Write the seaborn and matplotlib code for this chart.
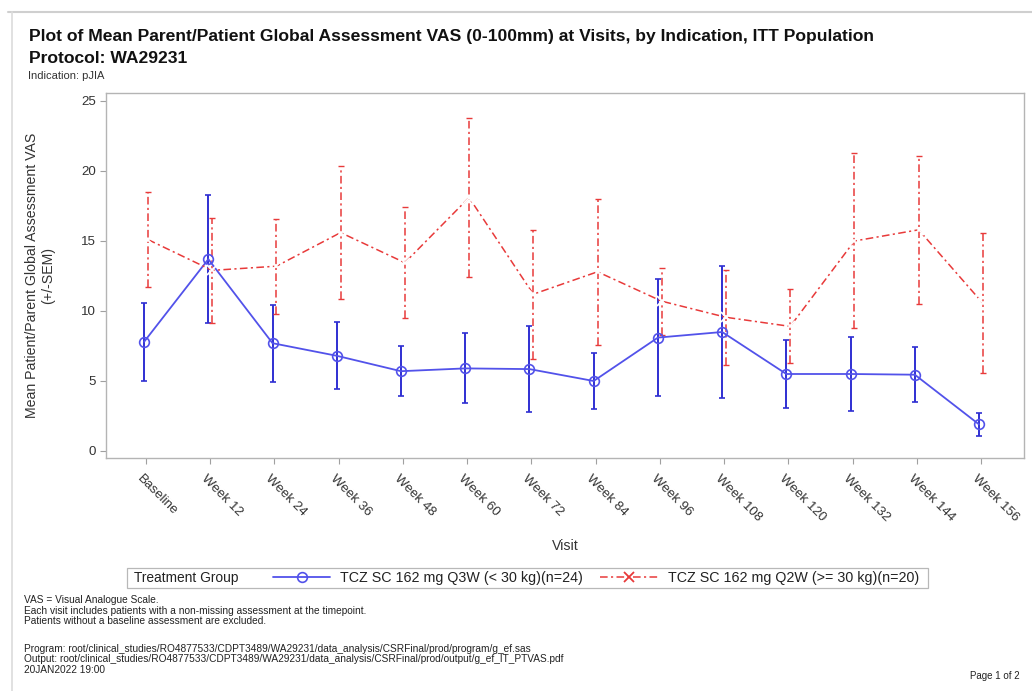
import numpy as np
import pandas as pd
import matplotlib
matplotlib.use("Agg")
import matplotlib.pyplot as plt
import matplotlib.transforms as mtransforms
from matplotlib.lines import Line2D
from matplotlib.patches import Rectangle
import seaborn as sns

# Visits and per-group summary statistics (mean and standard error of the mean)
visits = ["Baseline", "Week 12", "Week 24", "Week 36", "Week 48", "Week 60", "Week 72",
          "Week 84", "Week 96", "Week 108", "Week 120", "Week 132", "Week 144", "Week 156"]

q3w_label = "TCZ SC 162 mg Q3W (< 30 kg)(n=24)"
q3w_mean = [7.8, 13.7, 7.7, 6.8, 5.7, 5.9, 5.85, 5.0, 8.1, 8.5, 5.5, 5.5, 5.45, 1.9]
q3w_sem = [2.8, 4.55, 2.75, 2.4, 1.8, 2.5, 3.1, 2.0, 4.2, 4.7, 2.4, 2.65, 1.95, 0.8]

q2w_label = "TCZ SC 162 mg Q2W (>= 30 kg)(n=20)"
q2w_mean = [15.1, 12.9, 13.2, 15.6, 13.45, 18.1, 11.2, 12.8, 10.7, 9.55, 8.9, 15.0, 15.8, 10.55]
q2w_sem = [3.4, 3.75, 3.4, 4.75, 3.95, 5.65, 4.6, 5.2, 2.4, 3.4, 2.65, 6.25, 5.3, 5.0]

y_ticks = [0, 5, 10, 15, 20, 25]

footnotes = [
    "VAS = Visual Analogue Scale.",
    "Each visit includes patients with a non-missing assessment at the timepoint.",
    "Patients without a baseline assessment are excluded.",
    "",
    "Program: root/clinical_studies/RO4877533/CDPT3489/WA29231/data_analysis/CSRFinal/prod/program/g_ef.sas",
    "Output: root/clinical_studies/RO4877533/CDPT3489/WA29231/data_analysis/CSRFinal/prod/output/g_ef_IT_PTVAS.pdf",
    "20JAN2022 19:00",
]

sns.set_theme(style="white")
plt.rcParams["font.family"] = ["Liberation Sans", "DejaVu Sans"]

W, H = 1032, 691
fig = plt.figure(figsize=(W / 100, H / 100), dpi=100)
fig.patch.set_facecolor("white")


def fx(px):
    return px / W


def fy(py):
    return 1 - py / H


ax = fig.add_axes([fx(106), fy(458), fx(1024) - fx(106), fy(93) - fy(458)])

x_pos = np.arange(len(visits))
dodge = 0.03

blue = "#5252ea"
blue_bar = "#2f2fd2"
red = "#e83a3a"

df = pd.DataFrame({
    "x": np.concatenate([x_pos - dodge, x_pos + dodge]),
    "mean": q3w_mean + q2w_mean,
    "sem": q3w_sem + q2w_sem,
    "group": [q3w_label] * len(visits) + [q2w_label] * len(visits),
})

red_dash = (0, (5, 2.2, 1.4, 2.2))

# Q3W group: solid line with open circles
d1 = df[df["group"] == q3w_label]
sns.lineplot(data=d1, x="x", y="mean", ax=ax, color=blue, lw=1.3, marker="o",
             markersize=7, markerfacecolor="none", markeredgecolor=blue,
             markeredgewidth=1.2, errorbar=None, label=q3w_label, zorder=3)
ax.errorbar(d1["x"], d1["mean"], yerr=d1["sem"], fmt="none", ecolor=blue_bar,
            elinewidth=1.4, capsize=2.2, capthick=1.2, zorder=2)

# Q2W group: dash-dot line with crosses
d2 = df[df["group"] == q2w_label]
sns.lineplot(data=d2, x="x", y="mean", ax=ax, color=red, lw=1.1, marker="x",
             markersize=7, markeredgewidth=1.3, linestyle=red_dash,
             errorbar=None, label=q2w_label, zorder=4)
eb = ax.errorbar(d2["x"], d2["mean"], yerr=d2["sem"], fmt="none", ecolor=red,
                 elinewidth=1.1, capsize=2.2, capthick=1.0, zorder=2)
eb[2][0].set_linestyle(red_dash)

ax.set_xlim(-0.623, 13.67)
ax.set_ylim(-0.5, 25.57)
ax.set_yticks(y_ticks)
ax.set_yticklabels([str(v) for v in y_ticks])
ax.set_xticks(x_pos)
ax.set_xticklabels(visits)

for sp in ax.spines.values():
    sp.set_color("#b4b4b4")
    sp.set_linewidth(1.0)
ax.tick_params(axis="both", which="major", length=4, width=0.8, color="#a0a0a0",
               labelsize=9.6, labelcolor="#333333", direction="out")
ax.tick_params(axis="y", pad=3)
ax.tick_params(axis="x", pad=2)
ax.tick_params(bottom=True, left=True)

offset = mtransforms.ScaledTranslation(-7 / 100, -11 / 100, fig.dpi_scale_trans)
for lab in ax.get_xticklabels():
    lab.set_rotation(-45)
    lab.set_rotation_mode("anchor")
    lab.set_ha("left")
    lab.set_va("center")
    lab.set_transform(lab.get_transform() + offset)

ax.set_ylabel("Mean Patient/Parent Global Assessment VAS\n(+/-SEM)", fontsize=10.2,
              color="#333333", linespacing=1.2)
ax.yaxis.set_label_coords(-0.055, 0.5)
ax.set_xlabel("Visit", fontsize=10.2, color="#333333", va="top")
ax.xaxis.set_label_coords(0.5, -0.222)

ax.get_legend().remove()

# Legend strip along the bottom
fig.add_artist(Rectangle((fx(127), fy(588)), fx(928) - fx(127), fy(568) - fy(588),
                         transform=fig.transFigure, fill=False, edgecolor="#b8b8b8",
                         linewidth=0.9))
fig.text(fx(134), fy(578), "Treatment Group", fontsize=9.9, color="#222222",
         va="center", ha="left")
h1 = Line2D([], [], color=blue, lw=1.3, marker="o", markersize=7,
            markerfacecolor="none", markeredgecolor=blue, markeredgewidth=1.2)
h2 = Line2D([], [], color=red, lw=1.1, marker="x", markersize=7,
            markeredgewidth=1.3, linestyle=red_dash)
fig.legend([h1, h2], [q3w_label, q2w_label], loc="center left",
           bbox_to_anchor=(fx(273), fy(578)), ncol=2, frameon=False, fontsize=10.3,
           handlelength=4.0, handletextpad=0.7, columnspacing=1.2,
           borderaxespad=0, borderpad=0, labelcolor="#222222")

# Titles
fig.text(fx(29), fy(41), "Plot of Mean Parent/Patient Global Assessment VAS (0-100mm) at Visits, by Indication, ITT Population",
         fontsize=12.6, fontweight="bold", color="#111111", va="baseline", ha="left")
fig.text(fx(29), fy(63), "Protocol: WA29231", fontsize=12.6, fontweight="bold",
         color="#111111", va="baseline", ha="left")
fig.text(fx(28), fy(79), "Indication: pJIA", fontsize=8.0, color="#333333",
         va="baseline", ha="left")

# Footnotes
foot_y = [600, 610.5, 621, None, 649, 659.5, 670]
for txt, yy in zip(footnotes, foot_y):
    if yy is None:
        continue
    fig.text(fx(24), fy(yy), txt, fontsize=7.3, color="#222222", va="center",
             ha="left")
fig.text(fx(1020), fy(676), "Page 1 of 2", fontsize=7.0, color="#222222",
         va="center", ha="right")

# Page frame lines
fig.add_artist(Line2D([fx(8), 1], [fy(12), fy(12)], transform=fig.transFigure,
                      color="#cfcfcf", lw=1.5))
fig.add_artist(Line2D([fx(12), fx(12)], [fy(12), 0], transform=fig.transFigure,
                      color="#dcdcdc", lw=1.2))

fig.savefig("out.png", dpi=100)
